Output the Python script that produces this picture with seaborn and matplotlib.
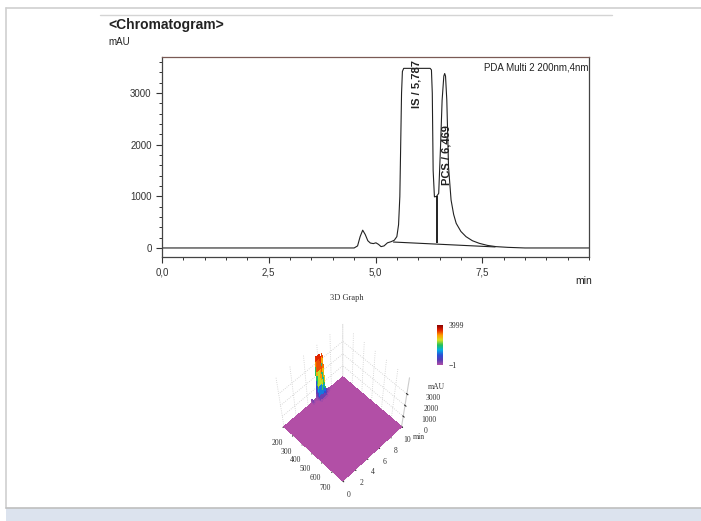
import numpy as np
import pandas as pd
import matplotlib
matplotlib.use("Agg")
import matplotlib.pyplot as plt
import seaborn as sns
from matplotlib.lines import Line2D
from matplotlib.patches import Rectangle
from matplotlib.colors import LinearSegmentedColormap, Normalize
from matplotlib.ticker import MultipleLocator, FuncFormatter

# chromatogram, PDA Multi 2 at 200 nm
time_min = [0.0, 4.50, 4.58, 4.64, 4.70, 4.76, 4.82, 4.88, 4.95, 5.01, 5.07, 5.13,
            5.20, 5.28, 5.36, 5.44, 5.50, 5.54, 5.57, 5.59, 5.61, 5.63, 5.66, 6.28,
            6.31, 6.33, 6.35, 6.38, 6.43, 6.48, 6.52, 6.56, 6.60, 6.62, 6.64, 6.67,
            6.71, 6.77, 6.83, 6.89, 7.00, 7.12, 7.27, 7.43, 7.62, 7.82, 8.10, 8.50, 10.0]
signal_mau = [0, 0, 40, 220, 345, 260, 140, 95, 85, 100, 70, 26,
              40, 100, 120, 150, 220, 450, 1000, 2000, 3000, 3420, 3480, 3480,
              3450, 3000, 1500, 990, 1000, 1058, 1896, 2863, 3330, 3380, 3330, 2863,
              1573, 928, 650, 477, 320, 219, 140, 90, 50, 26, 12, 0, 0]

# integration baseline and drop line between the two peaks
baseline_t = [5.42, 7.80]
baseline_mau = [115, 20]
drop_t = 6.43
drop_mau = [100, 1000]

peak_names = ["IS / 5,787", "PCS / 6,469"]
peak_label_t = [5.96, 6.66]
peak_label_mau = [3170, 1800]

# relative absorbance across wavelength for the 3D view
wavelength_nm = [200, 205, 210, 215, 220, 230, 250, 300, 400, 500, 600, 700, 800]
rel_absorbance = [1.0, 0.95, 0.7, 0.35, 0.12, 0.03, 0.0, 0.0, 0.0, 0.0, 0.0, 0.0, 0.0]

sns.set_style("ticks")
plt.rcParams["font.family"] = ["Liberation Sans", "DejaVu Sans"]

W, H = 701, 521
fig = plt.figure(figsize=(W / 100, H / 100), dpi=100)

def fx(px):
    return px / W

def fy(py):
    return 1 - py / H

# page frame
fig.add_artist(Line2D([fx(6), 1], [fy(8), fy(8)], color="#cfcfcf", lw=1.2))
fig.add_artist(Line2D([fx(6), fx(6)], [fy(8), fy(508)], color="#cfcfcf", lw=1.2))
fig.add_artist(Line2D([fx(100), fx(612)], [fy(15), fy(15)], color="#d4d4d4", lw=1))
fig.add_artist(Rectangle((fx(6), 0), 1 - fx(6), fy(508), color="#dce3ee", lw=0))
fig.add_artist(Line2D([fx(6), 1], [fy(508), fy(508)], color="#bfbfbf", lw=1.2))

# chromatogram panel
ax = fig.add_axes([fx(162), fy(257), fx(589) - fx(162), fy(57) - fy(257)])
df = pd.DataFrame({"time": time_min, "mAU": signal_mau})
sns.lineplot(data=df, x="time", y="mAU", color="#222222", lw=0.8, ax=ax)
bl = pd.DataFrame({"time": baseline_t, "mAU": baseline_mau})
sns.lineplot(data=bl, x="time", y="mAU", color="#222222", lw=0.8, ax=ax)
ax.vlines(drop_t, drop_mau[0], drop_mau[1], color="#111111", lw=1.3)

for name, t, v in zip(peak_names, peak_label_t, peak_label_mau):
    ax.text(t, v, name, rotation=90, ha="center", va="center",
            fontsize=8, fontweight="bold", color="#222222")

ax.text(0.998, 0.975, "PDA Multi 2 200nm,4nm", transform=ax.transAxes,
        ha="right", va="top", fontsize=7, color="#222222")

ax.set_xlim(0, 10)
ax.set_ylim(-175, 3700)
ax.set_xticks([0, 2.5, 5, 7.5])
ax.xaxis.set_minor_locator(MultipleLocator(0.5))
ax.set_yticks([0, 1000, 2000, 3000])
ax.yaxis.set_minor_locator(MultipleLocator(200))
ax.xaxis.set_major_formatter(FuncFormatter(lambda v, p: f"{v:.1f}".replace(".", ",")))
ax.tick_params(which="major", length=4, width=0.8, labelsize=7, colors="#333333")
ax.tick_params(which="minor", length=2.5, width=0.7, colors="#333333")
ax.set_xlabel("")
ax.set_ylabel("")
for s in ["left", "right", "bottom"]:
    ax.spines[s].set_color("#444444")
    ax.spines[s].set_linewidth(0.9)
ax.spines["top"].set_color("#7a5a55")
ax.spines["top"].set_linewidth(0.9)

fig.text(fx(108), fy(25), "<Chromatogram>", fontsize=10, fontweight="bold",
         ha="left", va="center", color="#222222")
fig.text(fx(108), fy(42), "mAU", fontsize=7, ha="left", va="center", color="#222222")
fig.text(fx(575), fy(281), "min", fontsize=7.5, ha="left", va="center", color="#222222")

# 3D graph
serif = ["Liberation Serif", "DejaVu Serif"]
fig.text(fx(347), fy(298), "3D Graph", fontsize=6, ha="center", va="center",
         family=serif, color="#333333")

cmap = LinearSegmentedColormap.from_list(
    "pda", ["#b24fa6", "#5a3cb4", "#2a4fd6", "#00aee6", "#22c05a",
            "#d8e020", "#ff9a00", "#e02000", "#8a0000"])
norm = Normalize(vmin=-1, vmax=3999)

T, WL = np.meshgrid(np.array(time_min), np.array(wavelength_nm))
Z = np.outer(rel_absorbance, signal_mau)

ax3 = fig.add_axes([fx(230), fy(509), fx(220), fy(304) - fy(509)], projection="3d")
ax3.plot_surface(WL, T, Z, rstride=1, cstride=1, facecolors=cmap(norm(Z)),
                 shade=False, linewidth=0, antialiased=False)
ax3.set_proj_type("persp", focal_length=0.6)
ax3.view_init(elev=60, azim=-45)
ax3.set_box_aspect((1, 1, 1.1), zoom=0.75)
ax3.set_xlim(200, 800)
ax3.set_ylim(0, 10)
ax3.set_zlim(0, 4300)
ax3.set_xticks([200, 300, 400, 500, 600, 700])
ax3.set_yticks([0, 2, 4, 6, 8, 10])
ax3.set_zticks([0, 1000, 2000, 3000])
for a in (ax3.xaxis, ax3.yaxis, ax3.zaxis):
    a.set_pane_color((1, 1, 1, 0))
    a.pane.set_edgecolor("#cccccc")
    a.line.set_color("#cccccc")
    a._axinfo["grid"]["color"] = "#cccccc"
    a._axinfo["grid"]["linestyle"] = ":"
    a._axinfo["grid"]["linewidth"] = 0.6
ax3.tick_params(labelsize=5.5, colors="#333333")
ax3.xaxis.set_tick_params(pad=2)
ax3.yaxis.set_tick_params(pad=0)
ax3.zaxis.set_tick_params(pad=8)
for lab in ax3.get_xticklabels() + ax3.get_yticklabels() + ax3.get_zticklabels():
    lab.set_family(serif)
fig.text(fx(413), fy(437), "min", fontsize=5.5, family=serif, color="#333333",
         ha="left", va="center")
fig.text(fx(436), fy(387), "mAU", fontsize=5.5, family=serif, color="#333333",
         ha="center", va="center")

cax = fig.add_axes([fx(437), fy(365), fx(6), fy(325) - fy(365)])
cb = fig.colorbar(plt.cm.ScalarMappable(norm=norm, cmap=cmap), cax=cax)
cb.set_ticks([-1, 3999])
cb.outline.set_visible(False)
cax.tick_params(labelsize=5.5, length=0, pad=4)
for lab in cax.get_yticklabels():
    lab.set_family(serif)

fig.savefig("out.png", dpi=100)
